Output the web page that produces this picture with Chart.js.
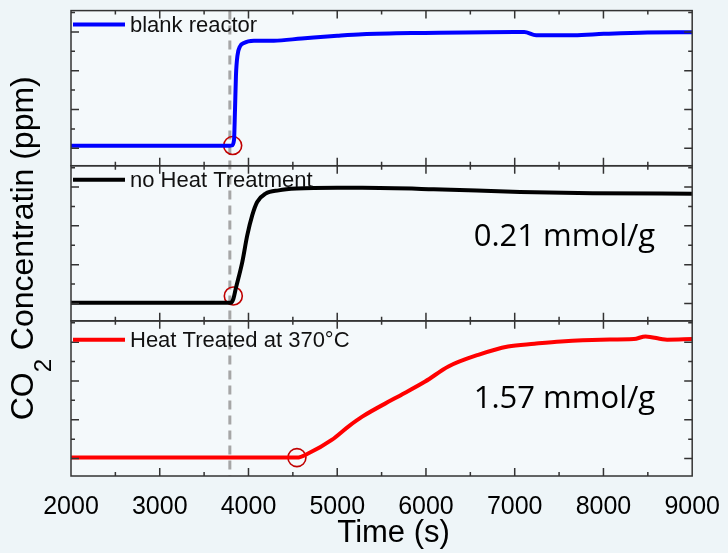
<!DOCTYPE html>
<html>
<head>
<meta charset="utf-8">
<script src="https://cdn.jsdelivr.net/npm/chart.js@4.4.1/dist/chart.umd.min.js"></script>
<style>
  body { margin: 0; background: #eef5f8; }
  #co2Chart { display: block; }
</style>
</head>
<body>
<canvas id="co2Chart" width="728" height="553"></canvas>
<script>
// blank reactor (top panel)
const blankTime = [2000, 3000, 3790, 3814, 3837, 3848, 3859, 3876, 3904, 3949, 4061, 4285, 4600, 5000, 5282, 5987, 6995, 7107, 7242, 7667, 8003, 8496, 9000];
const blankConc = [0.13, 0.13, 0.13, 0.15, 0.43, 1.97, 3.77, 4.79, 5.25, 5.43, 5.54, 5.55, 5.66, 5.8, 5.88, 5.95, 6.0, 6.0, 5.83, 5.83, 5.9, 5.97, 5.98];

// no heat treatment (middle panel)
const noHeatTime = [2000, 3000, 3800, 3830, 3856, 3930, 3986, 4042, 4098, 4192, 4341, 4542, 5000, 5282, 6087, 7061, 7878, 9000];
const noHeatConc = [0.04, 0.04, 0.04, 0.24, 0.75, 2.13, 3.51, 4.54, 5.23, 5.66, 5.83, 5.92, 5.96, 5.96, 5.89, 5.75, 5.68, 5.66];

// heat treated at 370C (bottom panel)
const heatTime = [2000, 3000, 4000, 4300, 4546, 4677, 4938, 5125, 5282, 5655, 5991, 6253, 6589, 6925, 7223, 7522, 7970, 8343, 8474, 8717, 9000];
const heatConc = [0.05, 0.05, 0.05, 0.05, 0.05, 0.27, 0.96, 1.65, 2.16, 3.12, 3.97, 4.75, 5.35, 5.78, 5.92, 6.04, 6.13, 6.16, 6.3, 6.13, 6.16];

// breakthrough markers (red circles), one per panel
const markerTime = [3822, 3829, 4546];
const markerConc = [0.14, 0.38, 0.05];

const onsetTime = 3790; // grey dashed line
const xTickLabels = [2000, 3000, 4000, 5000, 6000, 7000, 8000, 9000];
const yTickValues = [0, 1, 2, 3, 4, 5, 6, 7];
const seriesNames = ['blank reactor', 'no Heat Treatment', 'Heat Treated at 370\u00B0C'];
const capacityLabels = ['', '0.21 mmol/g', '1.57 mmol/g'];

const panelIds = ['yA', 'yB', 'yC'];
const lineColors = ['#0000ff', '#000000', '#ff0000'];
const legendOffset = [14, 14, 19];
const noteBaseline = [0, 80, 87];

function pts(xs, ys) {
  return xs.map((x, i) => ({x: x, y: ys[i]}));
}

const lineSets = [[blankTime, blankConc], [noHeatTime, noHeatConc], [heatTime, heatConc]].map((s, i) => ({
  data: pts(s[0], s[1]),
  yAxisID: panelIds[i],
  borderColor: lineColors[i],
  borderWidth: 4,
  pointRadius: 0,
  cubicInterpolationMode: 'monotone',
  fill: false
}));

const markerSets = markerTime.map((t, i) => ({
  type: 'scatter',
  data: [{x: t, y: markerConc[i]}],
  yAxisID: panelIds[i],
  showLine: false,
  pointRadius: 9,
  pointHoverRadius: 9,
  pointBorderColor: '#c00000',
  pointBackgroundColor: 'rgba(0,0,0,0)',
  pointBorderWidth: 1.6,
  clip: false
}));

const panelDecor = {
  id: 'panelDecor',
  beforeDraw(chart) {
    const {ctx, chartArea: a} = chart;
    ctx.save();
    ctx.fillStyle = '#eef5f8';
    ctx.fillRect(0, 0, chart.width, chart.height);
    ctx.fillStyle = '#f4f9fb';
    ctx.fillRect(a.left, a.top, a.right - a.left, a.bottom - a.top);
    ctx.restore();
  },
  beforeDatasetsDraw(chart) {
    const {ctx, chartArea: a} = chart;
    const x = chart.scales.x.getPixelForValue(onsetTime);
    ctx.save();
    ctx.strokeStyle = '#a6a6a6';
    ctx.lineWidth = 3;
    ctx.setLineDash([9, 6]);
    ctx.beginPath();
    ctx.moveTo(x, a.top);
    ctx.lineTo(x, a.bottom);
    ctx.stroke();
    ctx.restore();
  },
  afterDatasetsDraw(chart) {
    const {ctx, chartArea: a} = chart;
    const xs = chart.scales.x;
    ctx.save();
    panelIds.forEach((id, i) => {
      const ys = chart.scales[id];
      ctx.strokeStyle = '#333';
      ctx.lineWidth = 1.5;
      ctx.strokeRect(a.left, ys.top, a.right - a.left, ys.bottom - ys.top);

      ctx.beginPath();
      yTickValues.forEach(v => {
        const p = ys.getPixelForValue(v);
        const len = v % 2 === 0 ? 8 : 4;
        ctx.moveTo(a.left, p); ctx.lineTo(a.left + len, p);
        ctx.moveTo(a.right, p); ctx.lineTo(a.right - len, p);
      });
      for (let t = xs.min + 500; t < xs.max; t += 500) {
        const p = xs.getPixelForValue(t);
        const len = t % 1000 === 0 ? 8 : 4;
        ctx.moveTo(p, ys.top); ctx.lineTo(p, ys.top + len);
        ctx.moveTo(p, ys.bottom); ctx.lineTo(p, ys.bottom - len);
      }
      ctx.stroke();

      // legend entry
      const ly = ys.top + legendOffset[i];
      ctx.strokeStyle = lineColors[i];
      ctx.lineWidth = 4;
      ctx.beginPath();
      ctx.moveTo(a.left + 2, ly);
      ctx.lineTo(a.left + 54, ly);
      ctx.stroke();
      ctx.fillStyle = '#111';
      ctx.font = '22px "Liberation Sans", Arial, sans-serif';
      ctx.textBaseline = 'alphabetic';
      ctx.textAlign = 'left';
      ctx.fillText(seriesNames[i], a.left + 59, ly + 7.5);

      if (capacityLabels[i]) {
        ctx.font = '31px "Open Sans", "Noto Sans", sans-serif';
        ctx.textAlign = 'right';
        ctx.fillStyle = '#000';
        ctx.fillText(capacityLabels[i], a.right - 37, ys.top + noteBaseline[i]);
      }
    });
    ctx.restore();
  },
  afterDraw(chart) {
    const {ctx, chartArea: a} = chart;
    const big = '32px "Liberation Sans", Arial, sans-serif';
    const small = '24px "Liberation Sans", Arial, sans-serif';
    ctx.save();
    ctx.fillStyle = '#000';
    ctx.textBaseline = 'alphabetic';

    // x title, sits a little right of centre in the original
    ctx.font = '31px "Liberation Sans", Arial, sans-serif';
    ctx.textAlign = 'center';
    ctx.fillText('Time (s)', (a.left + a.right) / 2 + 12, 542);

    // y title with subscript
    ctx.textAlign = 'left';
    ctx.font = big;
    const w1 = ctx.measureText('CO').width;
    const w3 = ctx.measureText(' Concentratin (ppm)').width;
    ctx.font = small;
    const w2 = ctx.measureText('2').width;
    const total = w1 + w2 + w3;
    const cy = (a.top + a.bottom) / 2 + 5;
    ctx.translate(33, cy);
    ctx.rotate(-Math.PI / 2);
    const x0 = -total / 2;
    ctx.font = big;
    ctx.fillText('CO', x0, 0);
    ctx.font = small;
    ctx.fillText('2', x0 + w1, 18);
    ctx.font = big;
    ctx.fillText(' Concentratin (ppm)', x0 + w1 + w2, 0);
    ctx.restore();
  }
};

const hiddenY = {
  type: 'linear',
  position: 'left',
  stack: 'panels',
  stackWeight: 1,
  min: -0.9,
  max: 7.1,
  ticks: {display: false},
  grid: {display: false},
  border: {display: false},
  afterFit: s => { s.width = 71; }
};

new Chart(document.getElementById('co2Chart'), {
  type: 'line',
  data: {datasets: lineSets.concat(markerSets)},
  plugins: [panelDecor],
  options: {
    responsive: false,
    animation: false,
    devicePixelRatio: 1,
    layout: {padding: {top: 10, right: 32, left: 0, bottom: 0}},
    plugins: {legend: {display: false}, tooltip: {enabled: false}},
    scales: {
      x: {
        type: 'linear',
        position: 'bottom',
        min: 2000,
        max: 9000,
        afterBuildTicks: s => { s.ticks = xTickLabels.map(v => ({value: v})); },
        ticks: {
          color: '#000',
          padding: 8,
          maxRotation: 0,
          font: {family: '"Liberation Sans", Arial, sans-serif', size: 25},
          callback: v => String(v)
        },
        grid: {display: false},
        border: {display: false},
        title: {display: false},
        afterFit: s => { s.height = 77; }
      },
      // left boxes are stacked in reverse order, so the bottom panel comes first
      yC: Object.assign({}, hiddenY),
      yB: Object.assign({}, hiddenY),
      yA: Object.assign({}, hiddenY)
    }
  }
});
</script>
</body>
</html>
